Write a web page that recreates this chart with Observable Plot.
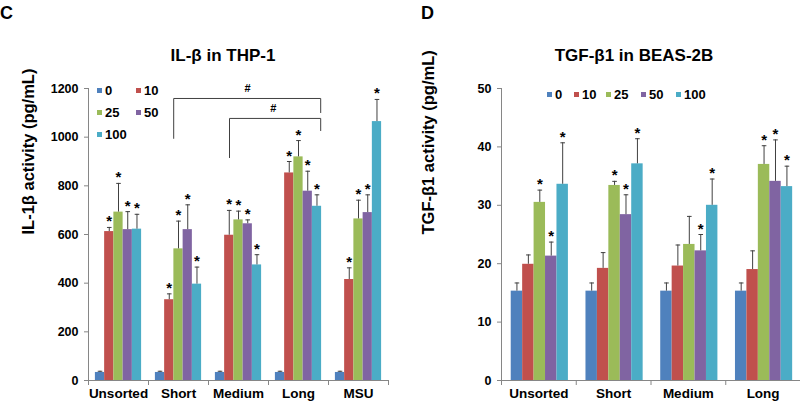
<!DOCTYPE html>
<html>
<head>
<meta charset="utf-8">
<script src="https://cdn.jsdelivr.net/npm/d3@7"></script>
<script src="https://cdn.jsdelivr.net/npm/@observablehq/plot@0.6"></script>
<style>
  body { margin: 0; background: #fff; font-family: "Liberation Sans", Arial, sans-serif; }
  #wrap { position: relative; width: 800px; height: 403px; overflow: hidden; }
  .panel { position: absolute; top: 0; }
  .abs { position: absolute; font-weight: bold; color: #000; white-space: nowrap; line-height: 1; }
  .ctr { transform: translate(-50%, -50%); }
  .sq { position: absolute; width: 5px; height: 5px; }
</style>
</head>
<body>
<div id="wrap"></div>
<script>
// ---------- data ----------
const doses = ["0", "10", "25", "50", "100"];
const doseColors = ["#4F81BD", "#C0504D", "#9BBB59", "#8064A2", "#4BACC6"];

// Panel C: IL-1β in THP-1 (pg/mL); rows = groups, columns = doses
const groupsC = ["Unsorted", "Short", "Medium", "Long", "MSU"];
const il1bMean = [
  [33, 612, 692, 620, 622],
  [33, 332, 541, 620, 396],
  [33, 597, 660, 644, 475],
  [33, 853, 919, 778, 716],
  [33, 415, 664, 690, 1064]
];
const il1bSD = [
  [5, 17, 118, 74, 61],
  [5, 24, 114, 102, 70],
  [5, 102, 36, 16, 42],
  [5, 47, 67, 82, 47],
  [5, 48, 77, 73, 91]
];
const il1bStar = [
  [0, 1, 1, 1, 1],
  [0, 1, 1, 1, 1],
  [0, 1, 1, 1, 1],
  [0, 1, 1, 1, 1],
  [0, 1, 1, 1, 1]
];
const yTicksC = [0, 200, 400, 600, 800, 1000, 1200];
// significance brackets: x in group units, y in pg/mL
const bracketsC = [
  {x1: 1.42, x2: 3.87, top: 1159, left: 995, right: 1101, labelX: 2.65, label: "#"},
  {x1: 2.35, x2: 3.87, top: 1077, left: 916, right: 1027, labelX: 3.08, label: "#"}
];

// Panel D: TGF-β1 in BEAS-2B (pg/mL)
const groupsD = ["Unsorted", "Short", "Medium", "Long"];
const tgfMean = [
  [15.3, 19.9, 30.5, 21.3, 33.6],
  [15.3, 19.2, 33.4, 28.4, 37.1],
  [15.3, 19.6, 23.3, 22.2, 30.0],
  [15.3, 19.0, 37.0, 34.1, 33.2]
];
const tgfSD = [
  [1.4, 1.6, 2.1, 2.4, 7.1],
  [1.4, 2.7, 0.7, 3.4, 4.3],
  [1.4, 3.6, 4.8, 2.8, 4.5],
  [1.4, 3.2, 3.2, 7.1, 3.5]
];
const tgfStar = [
  [0, 0, 1, 1, 1],
  [0, 0, 1, 1, 1],
  [0, 0, 0, 1, 1],
  [0, 0, 1, 1, 1]
];
const yTicksD = [0, 10, 20, 30, 40, 50];

// ---------- helpers ----------
const axisGray = "#868686";
const errColor = "#404040";
const capSymbol = {
  draw(ctx, size) {
    const w = Math.sqrt(size / Math.PI);
    ctx.moveTo(-w, 0);
    ctx.lineTo(w, 0);
  }
};

function buildRows(groups, means, sds, stars) {
  const rows = [];
  groups.forEach((g, gi) => doses.forEach((d, j) => {
    rows.push({group: g, gi, dose: d, j, mean: means[gi][j], sd: sds[gi][j], star: stars[gi][j]});
  }));
  return rows;
}

function panel({groups, means, sds, stars, yMax, yTicks, yLabel, marginLeft, marginRight, pad, bw, brackets = []}) {
  const rows = buildRows(groups, means, sds, stars);
  const x1 = d => d.gi + pad + d.j * bw;
  const x2 = d => d.gi + pad + (d.j + 1) * bw;
  const xc = d => d.gi + pad + (d.j + 0.5) * bw;
  const top = d => d.mean + d.sd;
  const bracketPts = brackets.flatMap((b, i) => [
    {i, x: b.x1, y: b.left}, {i, x: b.x1, y: b.top}, {i, x: b.x2, y: b.top}, {i, x: b.x2, y: b.right}
  ]);
  return Plot.plot({
    width: 400,
    height: 403,
    marginLeft, marginRight,
    marginTop: 88,
    marginBottom: 23,
    style: {fontFamily: "'Liberation Sans', Arial, sans-serif", fontWeight: "bold", fontSize: "12.5px", color: "#000", background: "transparent", overflow: "visible"},
    x: {domain: [0, groups.length], axis: null},
    y: {domain: [0, yMax], axis: null},
    color: {domain: doses, range: doseColors},
    marks: [
      Plot.rectY(rows, {x1, x2, y: "mean", fill: "dose"}),
      Plot.ruleX(rows, {x: xc, y1: "mean", y2: top, stroke: errColor, strokeWidth: 1}),
      Plot.dot(rows, {x: xc, y: top, symbol: capSymbol, r: 2.3, stroke: errColor, strokeWidth: 1, fill: "none"}),
      Plot.text(rows.filter(d => d.star), {x: xc, y: top, text: () => "*", lineAnchor: "bottom", dy: -1, fontSize: 15, fill: "#000"}),
      Plot.line(bracketPts, {x: "x", y: "y", z: "i", stroke: errColor, strokeWidth: 1}),
      Plot.text(brackets, {x: "labelX", y: "top", text: "label", lineAnchor: "bottom", dy: -6, fontSize: 11, fill: "#000"}),
      Plot.ruleX([0], {stroke: axisGray}),
      Plot.ruleY([0], {stroke: axisGray}),
      Plot.axisY({ticks: yTicks, tickSize: 4, tickPadding: 6, tickFormat: d => String(d), stroke: axisGray, fill: "#000", label: null, fontSize: 12.5}),
      Plot.axisX({ticks: d3.range(0, groups.length + 1), tickSize: 5, tickFormat: () => "", stroke: axisGray, label: null}),
      Plot.axisX({ticks: groups.map((g, i) => i + 0.5), tickSize: 0, tickPadding: 8, tickFormat: v => groups[Math.floor(v)], fill: "#000", label: null, fontSize: 13.5}),
      Plot.text([yLabel], {frameAnchor: "left", rotate: -90, dx: -(marginLeft - 28), text: d => d, fontSize: 16.5, fill: "#000"})
    ]
  });
}

const wrap = document.getElementById("wrap");

const plotC = panel({
  groups: groupsC, means: il1bMean, sds: il1bSD, stars: il1bStar,
  yMax: 1200, yTicks: yTicksC, yLabel: "IL-1β activity (pg/mL)",
  marginLeft: 88, marginRight: 12, pad: 0.115, bw: 0.154, brackets: bracketsC
});
plotC.classList.add("panel");
plotC.style.left = "0px";
wrap.appendChild(plotC);

const plotD = panel({
  groups: groupsD, means: tgfMean, sds: tgfSD, stars: tgfStar,
  yMax: 50, yTicks: yTicksD, yLabel: "TGF-β1 activity (pg/mL)",
  marginLeft: 101, marginRight: 0, pad: 0.13, bw: 0.153
});
plotD.classList.add("panel");
plotD.style.left = "400px";
wrap.appendChild(plotD);

// ---------- titles ----------
function addText(txt, x, y, size, center = true) {
  const el = document.createElement("div");
  el.className = "abs" + (center ? " ctr" : "");
  el.style.left = x + "px";
  el.style.top = y + "px";
  el.style.fontSize = size + "px";
  el.textContent = txt;
  wrap.appendChild(el);
}
addText("C", 0, 4, 18, false);
addText("D", 421, 4, 18, false);
addText("IL-β in THP-1", 223, 55, 17);
addText("TGF-β1 in BEAS-2B", 634, 55, 17);

// ---------- legends ----------
const legendC = [[97, 88], [136, 88], [97, 110], [136, 110], [97, 132]];
const legendD = [[547, 92], [574, 92], [606, 92], [641, 92], [676, 92]];
function addLegend(pos) {
  doses.forEach((d, j) => {
    const [x, y] = pos[j];
    const sq = document.createElement("div");
    sq.className = "sq";
    sq.style.left = x + "px";
    sq.style.top = y + "px";
    sq.style.background = doseColors[j];
    wrap.appendChild(sq);
    const t = document.createElement("div");
    t.className = "abs";
    t.style.left = (x + 8) + "px";
    t.style.top = (y - 4) + "px";
    t.style.fontSize = "13px";
    t.textContent = d;
    wrap.appendChild(t);
  });
}
addLegend(legendC);
addLegend(legendD);
</script>
</body>
</html>
